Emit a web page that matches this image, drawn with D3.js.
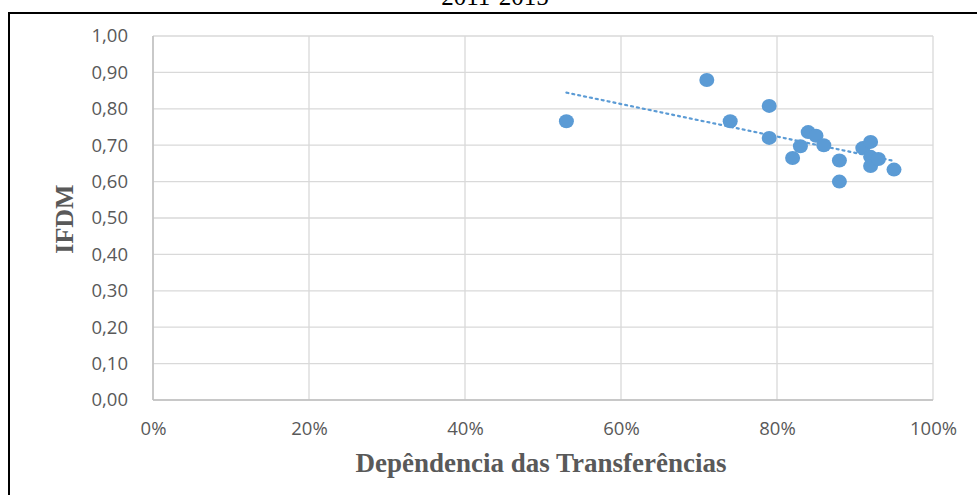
<!DOCTYPE html>
<html>
<head>
<meta charset="utf-8">
<script src="https://cdn.jsdelivr.net/npm/d3@7"></script>
<style>
  body { margin: 0; background: #fff; }
  svg { display: block; }
</style>
</head>
<body>
<div id="chart"></div>
<script>
var svgW = 977;
var svgH = 495;

// dependencia das transferencias (share) and IFDM per municipality
var dependencia = [0.53, 0.71, 0.74, 0.79, 0.79, 0.82, 0.83, 0.84, 0.85, 0.86, 0.88, 0.88, 0.91, 0.92, 0.92, 0.92, 0.93, 0.95];
var ifdm        = [0.766, 0.879, 0.766, 0.808, 0.72, 0.665, 0.697, 0.736, 0.726, 0.7, 0.658, 0.6, 0.692, 0.709, 0.668, 0.643, 0.662, 0.633];
var xTicks = [0, 0.2, 0.4, 0.6, 0.8, 1.0];
var yTicks = [0, 0.1, 0.2, 0.3, 0.4, 0.5, 0.6, 0.7, 0.8, 0.9, 1.0];

var margin = { left: 153, right: 44, top: 36, bottom: 95 };
var chartW = svgW - margin.left - margin.right;
var chartH = svgH - margin.top - margin.bottom;

var svg = d3.select("#chart")
            .append("svg")
            .attr("width", svgW)
            .attr("height", svgH);

// outer frame (runs off the right and bottom edges)
svg.append("rect")
   .attr("x", 9).attr("y", 13)
   .attr("width", 980).attr("height", 500)
   .attr("fill", "none")
   .attr("stroke", "#000")
   .attr("stroke-width", 2);

svg.append("text")
   .attr("x", 495).attr("y", 5)
   .attr("text-anchor", "middle")
   .attr("font-family", "Liberation Serif, Times New Roman, serif")
   .attr("font-size", 25)
   .attr("fill", "#000")
   .text("2011-2015");

var g = svg.append("g")
           .attr("transform", `translate(${margin.left}, ${margin.top})`);

var xScale = d3.scaleLinear().domain([0, 1]).range([0, chartW]);
var yScale = d3.scaleLinear().domain([0, 1]).range([chartH, 0]);

// gridlines
g.append("g")
 .selectAll("line")
 .data(yTicks)
 .enter()
 .append("line")
 .attr("x1", 0).attr("x2", chartW)
 .attr("y1", d => yScale(d)).attr("y2", d => yScale(d))
 .attr("stroke", "#d9d9d9").attr("stroke-width", 1.3);

g.append("g")
 .selectAll("line")
 .data(xTicks)
 .enter()
 .append("line")
 .attr("x1", d => xScale(d)).attr("x2", d => xScale(d))
 .attr("y1", 0).attr("y2", chartH)
 .attr("stroke", "#d9d9d9").attr("stroke-width", 1.3);

// axis lines
g.append("line")
 .attr("x1", 0).attr("x2", chartW)
 .attr("y1", chartH).attr("y2", chartH)
 .attr("stroke", "#bfbfbf").attr("stroke-width", 1.5);
g.append("line")
 .attr("x1", 0).attr("x2", 0)
 .attr("y1", 0).attr("y2", chartH)
 .attr("stroke", "#bfbfbf").attr("stroke-width", 1.5);

var bottomAxis = d3.axisBottom(xScale)
                   .tickValues(xTicks)
                   .tickSize(0)
                   .tickPadding(22)
                   .tickFormat(d3.format(".0%"));
var leftAxis = d3.axisLeft(yScale)
                 .tickValues(yTicks)
                 .tickSize(0)
                 .tickPadding(25)
                 .tickFormat(d => d.toFixed(2).replace(".", ","));

var xa = g.append("g")
          .attr("transform", `translate(0, ${chartH})`)
          .call(bottomAxis);
var ya = g.append("g").call(leftAxis);

[xa, ya].forEach(a => {
    a.select(".domain").remove();
    a.selectAll("text")
     .attr("font-family", "Open Sans, Liberation Sans, sans-serif")
     .attr("font-size", 18.5)
     .attr("fill", "#595959");
});

// trendline (least squares)
var mx = d3.mean(dependencia), my = d3.mean(ifdm);
var sxy = d3.sum(dependencia, (x, i) => (x - mx) * (ifdm[i] - my));
var sxx = d3.sum(dependencia, x => (x - mx) * (x - mx));
var slope = sxy / sxx;
var icpt = my - slope * mx;
var x0 = d3.min(dependencia), x1 = d3.max(dependencia);

g.append("line")
 .attr("x1", xScale(x0)).attr("y1", yScale(icpt + slope * x0))
 .attr("x2", xScale(x1)).attr("y2", yScale(icpt + slope * x1))
 .attr("stroke", "#5b9bd5")
 .attr("stroke-width", 2.2)
 .attr("stroke-dasharray", "2,4")
 .attr("stroke-linecap", "round");

// markers
g.selectAll("ellipse")
 .data(dependencia)
 .enter()
 .append("ellipse")
 .attr("cx", d => xScale(d))
 .attr("cy", (d, i) => yScale(ifdm[i]))
 .attr("rx", 7.5)
 .attr("ry", 7)
 .attr("fill", "#5b9bd5");

// axis titles
svg.append("text")
   .attr("x", 541).attr("y", 472)
   .attr("text-anchor", "middle")
   .attr("font-family", "Liberation Serif, Times New Roman, serif")
   .attr("font-weight", "bold")
   .attr("font-size", 27)
   .attr("fill", "#595959")
   .text("Depêndencia das Transferências");

svg.append("text")
   .attr("transform", "translate(73, 219) rotate(-90)")
   .attr("text-anchor", "middle")
   .attr("font-family", "Liberation Serif, Times New Roman, serif")
   .attr("font-weight", "bold")
   .attr("font-size", 26)
   .attr("fill", "#595959")
   .text("IFDM");
</script>
</body>
</html>
